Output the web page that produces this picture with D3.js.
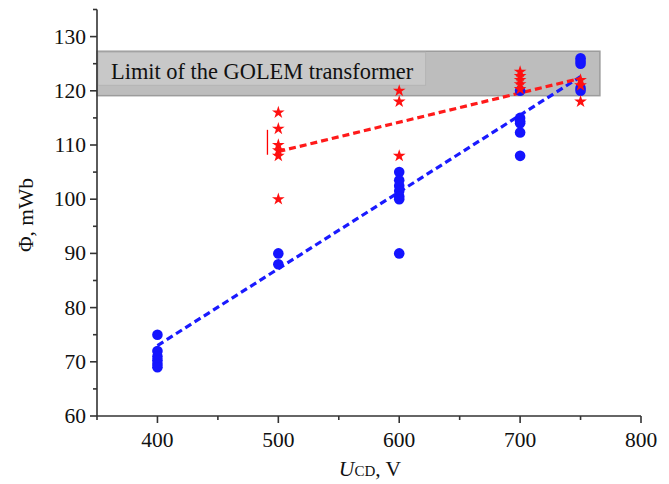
<!DOCTYPE html>
<html><head><meta charset="utf-8">
<script src="https://cdn.jsdelivr.net/npm/d3@7"></script>
<style>
html,body{margin:0;padding:0;background:#fff;}
svg text{font-family:"Liberation Serif","Times New Roman",serif;fill:#111;}
</style></head>
<body><svg id="c" width="669" height="484"></svg>
<script>
// ---- data ----
const blueX = [400,400,400,400,400,400, 500,500, 600,600,600,600,600,600,600, 700,700,700,700,700,700, 750,750,750,750,750];
const blueY = [75,72,71,70.3,69.6,69, 90,88, 105,103.5,102.5,101.5,100.5,100,90, 120,115,114.4,114,112.3,108, 126,125.5,125,120.5,120];
const redX = [500,500,500,500,500,500, 600,600,600, 700,700,700,700,700, 750,750,750];
const redY = [116,113,110,109,108,100, 120,118,108, 123.5,122.7,122,121.2,120.3, 122,121,118];
const blueFit = [[400,73],[750,122.6]];
const redFit = [[500,108.8],[750,122.3]];
const redBar = [[491,108.2],[491,112.8]];
const limitBand = [119.1,127.3];
const limitX = [350,766];
const limitLabel = "Limit of the GOLEM transformer";
const xTicks = [400,500,600,700,800];
const xMinor = [350,450,550,650,750];
const yTicks = [60,70,80,90,100,110,120,130];
const yMinor = [65,75,85,95,105,115,125,135];

const svg = d3.select("#c");
const x = d3.scaleLinear().domain([350,800]).range([97,641]);
const y = d3.scaleLinear().domain([60,135]).range([416,9.5]);

// limit band
svg.append("rect").attr("x",x(limitX[0])).attr("y",y(limitBand[1]))
  .attr("width",x(limitX[1])-x(limitX[0])).attr("height",y(limitBand[0])-y(limitBand[1]))
  .attr("fill","#bdbdbd").attr("stroke","#9c9c9c").attr("stroke-width",1.5);
svg.append("rect").attr("x",x(limitX[0])+1).attr("y",y(limitBand[1])+1)
  .attr("width",x(621)-x(limitX[0])).attr("height",y(121.2)-y(limitBand[1]))
  .attr("fill","#c8c8c8").attr("stroke","#b4b4b4").attr("stroke-width",1);
svg.append("text").attr("x",111).attr("y",79).attr("font-size",22.4).text(limitLabel);

// fits
const line = d3.line().x(d=>x(d[0])).y(d=>y(d[1]));
svg.append("path").attr("d",line(blueFit)).attr("fill","none").attr("stroke","#1a1aff")
  .attr("stroke-width",3.2).attr("stroke-dasharray","7,4");
svg.append("path").attr("d",line(redFit)).attr("fill","none").attr("stroke","#ff1a1a")
  .attr("stroke-width",3.2).attr("stroke-dasharray","7,4");
svg.append("path").attr("d",line(redBar)).attr("fill","none").attr("stroke","#ff0000").attr("stroke-width",1.3);

// points
svg.append("g").selectAll("circle").data(blueX.map((v,i)=>[v,blueY[i]])).join("circle")
  .attr("cx",d=>x(d[0])).attr("cy",d=>y(d[1])).attr("r",5.3).attr("fill","#1414ff");
const star = d3.symbol().type(d3.symbolStar).size(50);
svg.append("g").selectAll("path").data(redX.map((v,i)=>[v,redY[i]])).join("path")
  .attr("d",star).attr("transform",d=>`translate(${x(d[0])},${y(d[1])})`).attr("fill","#ff1010");

// axes
const ax = svg.append("g").attr("stroke","#333").attr("stroke-width",1.6);
ax.append("line").attr("x1",x(350)).attr("x2",x(800)).attr("y1",y(60)).attr("y2",y(60));
ax.append("line").attr("x1",x(350)).attr("x2",x(350)).attr("y1",y(60)).attr("y2",y(135));
ax.selectAll(".xt").data(xTicks).join("line").attr("x1",d=>x(d)).attr("x2",d=>x(d)).attr("y1",y(60)).attr("y2",y(60)+7);
ax.selectAll(".xm").data(xMinor).join("line").attr("class","xm").attr("x1",d=>x(d)).attr("x2",d=>x(d)).attr("y1",y(60)).attr("y2",y(60)+4);
ax.selectAll(".yt").data(yTicks).join("line").attr("class","yt").attr("x1",x(350)-7).attr("x2",x(350)).attr("y1",d=>y(d)).attr("y2",d=>y(d));
ax.selectAll(".ym").data(yMinor).join("line").attr("class","ym").attr("x1",x(350)-4).attr("x2",x(350)).attr("y1",d=>y(d)).attr("y2",d=>y(d));

svg.append("g").selectAll("text").data(xTicks).join("text")
  .attr("x",d=>x(d)).attr("y",y(60)+31).attr("text-anchor","middle").attr("font-size",21.5).text(d=>d);
svg.append("g").selectAll("text").data(yTicks).join("text")
  .attr("x",x(350)-11).attr("y",d=>y(d)+7).attr("text-anchor","end").attr("font-size",21.5).text(d=>d);

// titles
const xt = svg.append("text").attr("x",370).attr("y",476).attr("text-anchor","middle").attr("font-size",21.5);
xt.append("tspan").attr("font-style","italic").text("U");
xt.append("tspan").attr("font-size",15).text("CD");
xt.append("tspan").text(", V");
svg.append("text").attr("transform","translate(33,215) rotate(-90)").attr("text-anchor","middle")
  .attr("font-size",21.5).text("Φ, mWb");
</script></body></html>
